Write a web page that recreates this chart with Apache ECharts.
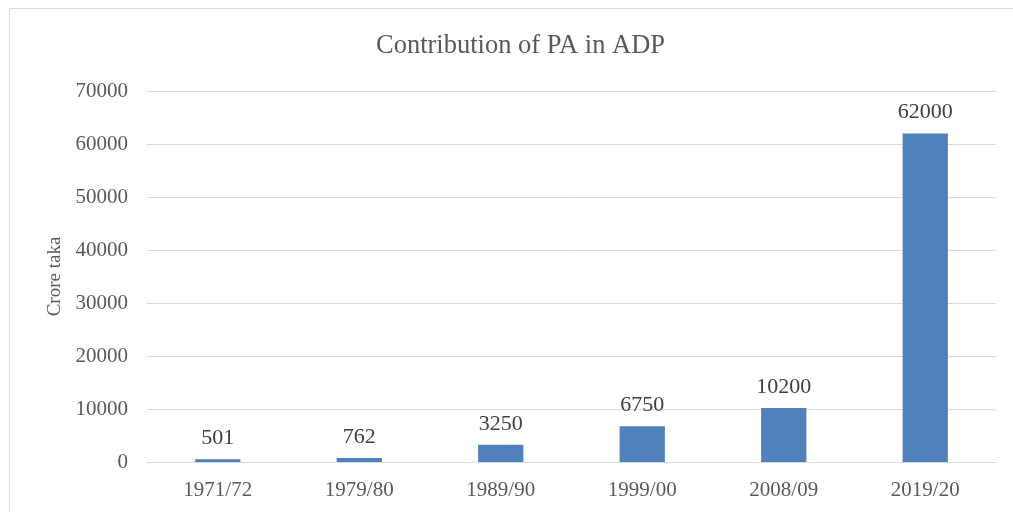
<!DOCTYPE html>
<html><head><meta charset="utf-8">
<script src="https://cdn.jsdelivr.net/npm/echarts@6/dist/echarts.min.js"></script>
<style>html,body{margin:0;padding:0;background:#fff}#c{width:1013px;height:512px}</style>
</head><body><div id="c"></div>
<script>
const categories = ['1971/72','1979/80','1989/90','1999/00','2008/09','2019/20'];
const values = [501, 762, 3250, 6750, 10200, 62000];
const titleText = 'Contribution of PA in ADP';
const yAxisName = 'Crore taka';

const font = '"Liberation Serif", "Times New Roman", serif';
const chart = echarts.init(document.getElementById('c'));
chart.setOption({
  backgroundColor: '#fff',
  animation: false,
  graphic: [{type:'rect', shape:{x:9.5,y:8.5,width:1020,height:520}, style:{fill:'none', stroke:'#d9d9d9', lineWidth:1}}],
  title: {text: titleText, left: 371, top: 28, textStyle:{fontFamily:font, fontSize:26.5, fontWeight:'normal', color:'#595959'}},
  grid: {left:147, right:17, top:91, bottom:50},
  xAxis: {type:'category', data:categories,
    axisLine:{lineStyle:{color:'#d9d9d9'}}, axisTick:{show:false},
    axisLabel:{fontFamily:font, fontSize:21, color:'#595959', margin:18}},
  yAxis: {type:'value', min:0, max:70000, interval:10000,
    name: yAxisName, nameLocation:'middle', nameGap:82, nameRotate:90,
    nameTextStyle:{fontFamily:font, fontSize:19, color:'#595959'},
    axisLine:{show:false}, axisTick:{show:false},
    splitLine:{lineStyle:{color:'#d9d9d9', width:1}},
    axisLabel:{fontFamily:font, fontSize:21, color:'#595959', margin:19,
      formatter: v => String(v)}},
  series: [{type:'bar', data:values, barWidth:'32%',
    itemStyle:{color:'#4f81bd'},
    label:{show:true, position:'top', distance:10, fontFamily:font, fontSize:22, color:'#404040'}}]
});
</script></body></html>
